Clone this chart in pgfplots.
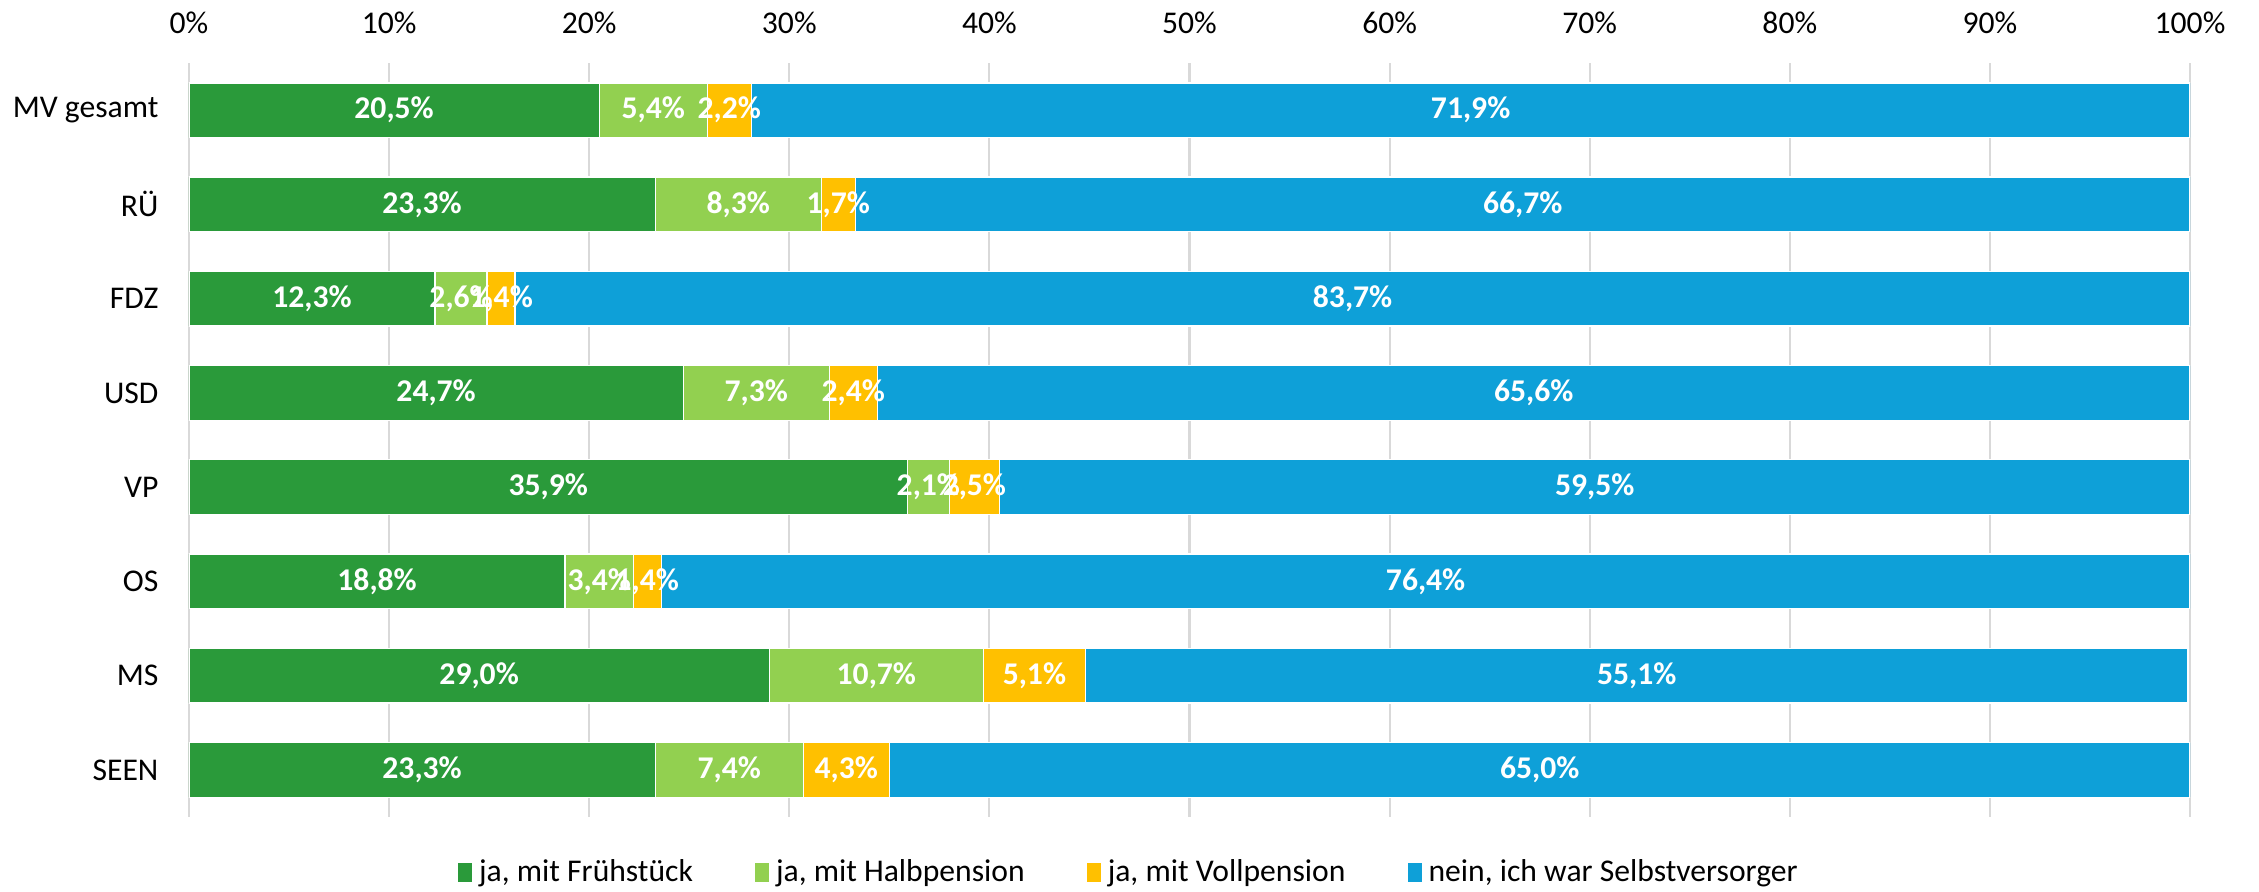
\documentclass[border=0pt]{standalone}
\usepackage{fontspec}
\setmainfont{Carlito}
\usepackage{pgfplots}
\usepackage{pgfplotstable}
\pgfplotsset{compat=1.18}
\definecolor{cA}{HTML}{2A9A3A}
\definecolor{cB}{HTML}{92D050}
\definecolor{cC}{HTML}{FFC000}
\definecolor{cD}{HTML}{0EA0D8}
\definecolor{gridc}{HTML}{D9D9D9}
\pgfplotstableread{
y a b c d
0 20.5 5.4 2.2 71.9
1 23.3 8.3 1.7 66.7
2 12.3 2.6 1.4 83.7
3 24.7 7.3 2.4 65.6
4 35.9 2.1 2.5 59.5
5 18.8 3.4 1.4 76.4
6 29.0 10.7 5.1 55.1
7 23.3 7.4 4.3 65.0
}\data
\begin{document}
\fontsize{9pt}{11pt}\selectfont
\begin{tikzpicture}
\path[use as bounding box] (-1.89cm,-0.75cm) rectangle (20.70cm,8.17cm);
\begin{axis}[
  at={(0,0)}, anchor=south west,
  scale only axis, width=20.01cm, height=7.54cm,
  xbar stacked, bar width=0.547cm,
  xmin=0, xmax=100, ymin=-0.5, ymax=7.5, y dir=reverse,
  ytick={0,...,7},
  yticklabels={MV gesamt,RÜ,FDZ,USD,VP,OS,MS,SEEN},
  xtick={0,10,...,100},
  xticklabel={\pgfmathprintnumber{\tick}\%},
  xticklabel pos=upper,
  xmajorgrids, grid style={draw=gridc, line width=0.6pt},
  axis line style={draw=none}, major tick length=0pt,
  /pgf/number format/assume math mode=true,
  xticklabel style={yshift=5pt},
  yticklabel style={xshift=-5.5pt},
  point meta=explicit,
  nodes near coords={\pgfmathprintnumber[fixed,fixed zerofill,precision=1,use comma,assume math mode=true]{\pgfplotspointmeta}\%},
  every node near coord/.append style={font=\bfseries, text=white, anchor=center},
  legend style={at={(0.471,-0.074)}, anchor=center, draw=none, fill=none,
    /tikz/every even column/.append style={column sep=0.55cm}},
  legend columns=4,
  legend image code/.code={\fill[#1,draw=none] (0cm,-0.09cm) rectangle (0.14cm,0.1cm);},
]
\addplot[fill=cA, draw=white, line width=0.4pt] table[x=a, y=y, meta=a]{\data};
\addlegendentry{ja, mit Frühstück}
\addplot[fill=cB, draw=white, line width=0.4pt] table[x=b, y=y, meta=b]{\data};
\addlegendentry{ja, mit Halbpension}
\addplot[fill=cC, draw=white, line width=0.4pt] table[x=c, y=y, meta=c]{\data};
\addlegendentry{ja, mit Vollpension}
\addplot[fill=cD, draw=white, line width=0.4pt] table[x=d, y=y, meta=d]{\data};
\addlegendentry{nein, ich war Selbstversorger}
\end{axis}
\end{tikzpicture}
\end{document}
